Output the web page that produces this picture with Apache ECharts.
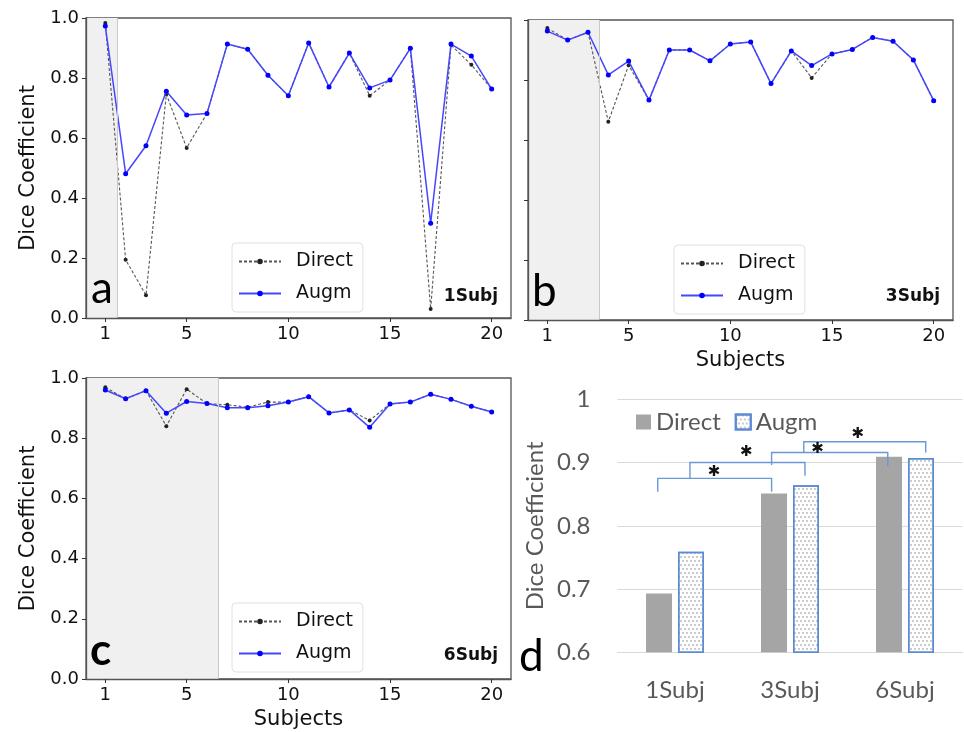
<!DOCTYPE html>
<html>
<head>
<meta charset="utf-8">
<script src="https://cdn.jsdelivr.net/npm/echarts@6/dist/echarts.min.js"></script>
<style>
  html, body { margin: 0; padding: 0; background: #fff; }
  #main { width: 964px; height: 732px; }
</style>
</head>
<body>
<div id="main"></div>
<script>
// per-subject dice scores
const subjects = [1, 2, 3, 4, 5, 6, 7, 8, 9, 10, 11, 12, 13, 14, 15, 16, 17, 18, 19, 20]
const xTicks = [1, 5, 10, 15, 20]

const directA = [0.983, 0.194, 0.076, 0.746, 0.567, 0.682, 0.913, 0.896, 0.809, 0.741, 0.917, 0.770, 0.883, 0.741, 0.793, 0.899, 0.030, 0.910, 0.844, 0.763]
const augmA = [0.973, 0.481, 0.574, 0.756, 0.677, 0.682, 0.913, 0.896, 0.809, 0.741, 0.917, 0.770, 0.883, 0.767, 0.793, 0.899, 0.316, 0.913, 0.873, 0.763]
const directB = [0.973, 0.933, 0.959, 0.661, 0.849, 0.733, 0.900, 0.900, 0.864, 0.920, 0.927, 0.788, 0.897, 0.807, 0.887, 0.902, 0.942, 0.929, 0.867, 0.731]
const augmB = [0.963, 0.933, 0.959, 0.817, 0.863, 0.733, 0.900, 0.900, 0.864, 0.920, 0.927, 0.788, 0.897, 0.848, 0.887, 0.902, 0.942, 0.929, 0.867, 0.731]
const directC = [0.969, 0.931, 0.958, 0.840, 0.963, 0.915, 0.911, 0.903, 0.920, 0.920, 0.938, 0.884, 0.894, 0.859, 0.914, 0.920, 0.946, 0.929, 0.906, 0.887]
const augmC = [0.960, 0.931, 0.958, 0.883, 0.922, 0.915, 0.901, 0.901, 0.908, 0.920, 0.938, 0.884, 0.894, 0.836, 0.914, 0.920, 0.946, 0.929, 0.906, 0.887]

// training subjects shaded (right edge, in subject units)
const shadeEnd = [1.6, 3.57, 6.57]
const panelTags = ['1Subj', '3Subj', '6Subj']

// panel d means
const barCategories = ['1Subj', '3Subj', '6Subj']
const directMean = [0.693, 0.851, 0.909]
const augmMean = [0.759, 0.864, 0.907]

// significance brackets (x in category units, y in dice units)
const bracketX1 = [-0.15, 0.13, 0.84, 1.12]
const bracketX2 = [0.84, 1.13, 1.85, 2.18]
const bracketTop = [0.875, 0.900, 0.916, 0.933]
const bracketLeftEnd = [0.854, 0.875, 0.896, 0.916]
const bracketRightEnd = [0.854, 0.879, 0.894, 0.916]
const starX = [0.34, 0.62, 1.24, 1.59]
const starY = [0.885, 0.917, 0.922, 0.945]

const mpl = 'DejaVu Sans'
const xl = 'Lato'

const pairs = (vals) => subjects.map((s, i) => [s, vals[i]])

const lineGrids = [
  { left: 86, top: 18, width: 425, height: 300 },
  { left: 528, top: 20, width: 425, height: 300 },
  { left: 86, top: 378, width: 425, height: 301 }
]
const lineData = [[directA, augmA], [directB, augmB], [directC, augmC]]
const legendPos = [{ left: 232, top: 243 }, { left: 674, top: 245 }, { left: 232, top: 603 }]

const grid = lineGrids.map(g => Object.assign({
  show: true, borderColor: '#555', borderWidth: 1.3, backgroundColor: '#fff', outerBoundsMode: 'none'
}, g))
grid.push({ left: 617.5, top: 399.3, width: 345, height: 253, outerBoundsMode: 'none' })

const xAxis = lineGrids.map((g, i) => ({
  type: 'value', gridIndex: i, min: 0.05, max: 20.95, z: 10,
  name: i === 0 ? '' : 'Subjects', nameLocation: 'middle', nameGap: 30,
  nameTextStyle: { fontFamily: mpl, fontSize: 21, color: '#111' },
  splitLine: { show: false },
  axisLine: { show: true, lineStyle: { color: '#555', width: 1.3 } },
  axisTick: { show: true, length: 4, customValues: xTicks, lineStyle: { color: '#333' } },
  axisLabel: { customValues: xTicks, margin: 7, fontFamily: mpl, fontSize: 18, color: '#111' }
}))
xAxis.push({
  type: 'category', gridIndex: 3, data: barCategories,
  axisLine: { lineStyle: { color: '#d9d9d9' } }, axisTick: { show: false },
  axisLabel: { margin: 26, fontFamily: xl, fontSize: 24, color: '#595959' }
})
// hidden value axis for the annotation layer on panel d
xAxis.push({ type: 'value', gridIndex: 3, min: -0.5, max: 2.5, show: false })

const yAxis = lineGrids.map((g, i) => ({
  type: 'value', gridIndex: i, min: 0, max: 1, interval: 0.2, z: 10,
  name: i === 1 ? '' : 'Dice Coefficient', nameLocation: 'middle', nameGap: 47,
  nameTextStyle: { fontFamily: mpl, fontSize: 21, color: '#111' },
  splitLine: { show: false },
  axisLine: { show: true, lineStyle: { color: '#555', width: 1.3 } },
  axisTick: { show: true, length: 4, lineStyle: { color: '#333' } },
  axisLabel: { show: i !== 1, margin: 7, fontFamily: mpl, fontSize: 18, color: '#111',
    formatter: v => v.toFixed(1) }
}))
yAxis.push({
  type: 'value', gridIndex: 3, min: 0.6, max: 1, interval: 0.1,
  name: 'Dice Coefficient', nameLocation: 'middle', nameGap: 70,
  nameTextStyle: { fontFamily: xl, fontSize: 24, color: '#595959' },
  axisLine: { show: false }, axisTick: { show: false },
  splitLine: { lineStyle: { color: '#d9d9d9', width: 1.2 } },
  axisLabel: { margin: 27, fontFamily: xl, fontSize: 24, color: '#595959' }
})

const series = []
lineData.forEach((pair, i) => {
  series.push({
    name: 'Direct', type: 'line', xAxisIndex: i, yAxisIndex: i, data: pairs(pair[0]),
    symbol: 'circle', symbolSize: 4, z: 3,
    itemStyle: { color: '#222' },
    lineStyle: { color: '#555', width: 1.1, type: [3, 2] },
    markArea: {
      silent: true,
      itemStyle: { color: '#f0f0f0' },
      data: [[{ xAxis: 0.05 }, { xAxis: shadeEnd[i] }]]
    },
    markLine: {
      silent: true, symbol: 'none', label: { show: false },
      lineStyle: { color: '#c9c9c9', width: 1, type: 'solid' },
      data: [{ xAxis: shadeEnd[i] }]
    }
  })
  series.push({
    name: 'Augm', type: 'line', xAxisIndex: i, yAxisIndex: i, data: pairs(pair[1]),
    symbol: 'circle', symbolSize: 5, z: 4,
    itemStyle: { color: '#0000ff' },
    lineStyle: { color: '#4646ff', width: 1.5 }
  })
})

series.push({
  name: 'Direct bar', type: 'bar', xAxisIndex: 3, yAxisIndex: 3, data: directMean,
  barWidth: 26, barGap: '23%',
  itemStyle: { color: '#a5a5a5' }
})
series.push({
  name: 'Augm bar', type: 'bar', xAxisIndex: 3, yAxisIndex: 3, data: augmMean,
  barWidth: 26,
  itemStyle: {
    color: '#fff', borderColor: '#5b8bd6', borderWidth: 1.5,
    decal: {
      symbol: 'rect', symbolSize: 1, color: 'rgba(110,110,110,0.35)',
      dashArrayX: [[2, 2], [0, 2, 2, 0]], dashArrayY: [2, 2]
    }
  }
})

series.push({
  type: 'custom', xAxisIndex: 4, yAxisIndex: 3, silent: true, z: 5,
  data: bracketX1.map((x, i) => [x, bracketX2[i], bracketTop[i], bracketLeftEnd[i], bracketRightEnd[i]]),
  renderItem(params, api) {
    const x1 = api.value(0), x2 = api.value(1), top = api.value(2)
    return {
      type: 'polyline',
      shape: { points: [
        api.coord([x1, api.value(3)]), api.coord([x1, top]),
        api.coord([x2, top]), api.coord([x2, api.value(4)])
      ] },
      style: { stroke: '#6b97d8', lineWidth: 1.4, fill: null }
    }
  }
})
series.push({
  type: 'custom', xAxisIndex: 4, yAxisIndex: 3, silent: true, z: 6,
  data: starX.map((x, i) => [x, starY[i]]),
  renderItem(params, api) {
    const p = api.coord([api.value(0), api.value(1)])
    return {
      type: 'text',
      style: { text: '\u2731', x: p[0], y: p[1], align: 'center', verticalAlign: 'middle',
        font: '15px "DejaVu Sans"', fill: '#111' }
    }
  }
})

const legend = legendPos.map(p => ({
  left: p.left, top: p.top, orient: 'vertical', data: ['Direct', 'Augm'],
  itemWidth: 42, itemHeight: 7, itemGap: 13,
  padding: [9, 10, 9, 6], backgroundColor: '#fff',
  borderColor: '#e0e0e0', borderWidth: 1, borderRadius: 4,
  selectedMode: false,
  textStyle: { fontFamily: mpl, fontSize: 19, color: '#111', padding: [0, 0, 0, 10] }
}))
legend.push({
  left: 631, top: 405, orient: 'horizontal', data: ['Direct bar', 'Augm bar'],
  icon: 'rect', itemWidth: 15, itemHeight: 15, itemGap: 14, selectedMode: false,
  formatter: name => name.split(' ')[0],
  textStyle: { fontFamily: xl, fontSize: 24, color: '#595959' }
})

const letter = (t, x, y, bold) => ({
  type: 'text', x, y, z: 100,
  style: { text: t, font: (bold ? 'bold ' : '') + '44px Lato', fill: '#000', verticalAlign: 'middle' }
})
const tagPos = [[498, 297], [940, 297], [498, 656]]
const graphic = [
  letter('a', 91, 289), letter('b', 532, 292), letter('c', 90, 651, true), letter('d', 519, 657)
].concat(panelTags.map((t, i) => ({
  type: 'text', x: tagPos[i][0], y: tagPos[i][1], z: 100,
  style: { text: t, font: 'bold 17px "DejaVu Sans"', fill: '#111', align: 'right', verticalAlign: 'middle' }
})))

const myChart = echarts.init(document.getElementById('main'))
myChart.setOption({
  animation: false,
  backgroundColor: '#fff',
  grid, xAxis, yAxis, legend, series, graphic
})
</script>
</body>
</html>
